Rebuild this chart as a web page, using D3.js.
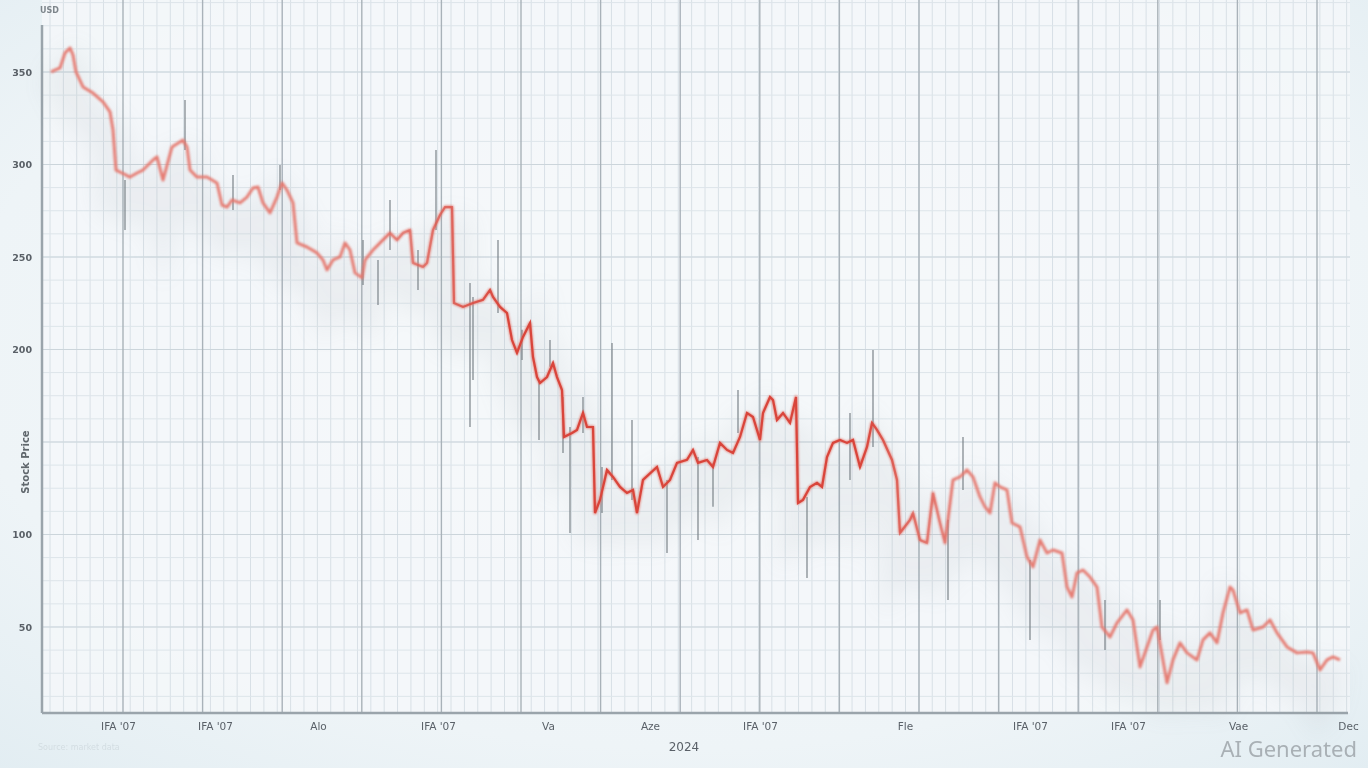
<!DOCTYPE html>
<html>
<head>
<meta charset="utf-8">
<script src="https://cdn.jsdelivr.net/npm/d3@7"></script>
<style>
  html, body { margin: 0; padding: 0; background: #eaf2f6; }
  svg { display: block; }
</style>
</head>
<body>
<svg id="chart" width="1368" height="768"></svg>
<script>
// ---- data ----
const days = [0.5,5,7.5,10,11.5,13,16.5,21.5,26.5,30,31.5,33,36,40,43.5,46.5,51.5,53.5,56.5,61,66.5,68.5,70,73.5,78.5,81,83.5,86,88.5,91,95,98.5,101.5,104,106.5,110,113.5,116,118.5,121.5,123.5,128.5,133.5,136.5,138.5,141.5,145,147.5,150,152.5,156,157.5,161.5,165,170,173.5,176.5,180,181.5,186.5,188.5,191.5,195,197.5,201,202,206.5,211.5,216.5,220,221.5,225,228.5,231,233.5,236.5,240,241.5,243.5,245,248.5,251.5,253.5,256,257,261,263.5,266.5,268.5,271.5,272.5,275,278.5,281.5,285,288.5,291.5,293.5,296.5,303.5,306.5,310,313.5,318.5,321.5,324,328.5,331.5,335,338.5,341.5,345,348.5,351.5,355,356.5,360,361.5,363.5,366.5,370,373,374,376.5,380,383.5,386,388.5,391.5,395,398.5,401.5,405,408.5,411,413.5,416.5,421,423.5,425,430,431.5,435,438.5,441.5,445,447.5,451.5,455,458.5,461.5,465,467.5,470,472.5,475,478.5,481,485,488.5,491.5,495,498.5,501.5,506,508.5,511,513.5,516.5,520,523.5,526,530,533.5,538.5,541.5,545,548.5,551.5,553.5,558.5,561.5,565,568.5,573.5,576.5,580,583.5,586.5,590,591.5,595,598.5,601.5,606.5,610,613.5,618.5,623.5,628.5,631.5,635,638.5,641.5,645];
const closes = [350,352.2,360.3,363,359.2,350,341.9,338.6,333.8,328.4,318.7,297,295.4,293.2,295.4,297,302.4,304.1,291.6,309.5,313.2,309.5,297,293.2,293.2,291.6,290,278.1,277,280.8,279.2,282.4,287.3,287.8,279.2,273.8,282.4,290,286.2,279.2,257.6,255.4,252.2,248.4,243,248.4,250,257.6,253.8,241.4,238.7,248.4,253.8,257.6,263,259.2,263,264.6,246.8,244.6,246.8,264.6,272.7,277,277,225.1,223,225.1,226.8,232.2,228.4,223,219.7,205.1,198.1,206.8,214.3,195.9,185.1,181.9,185.1,192.7,185.1,178.1,152.7,154.9,156.5,165.7,158.1,158.1,111.6,118.7,134.9,131.1,125.7,122.4,124.1,111.6,129.5,136.5,125.7,129.5,138.7,140.3,145.7,138.7,140.3,136.5,149.5,145.7,144.1,152.7,165.7,163.5,151.1,165.7,174.3,172.7,161.9,165.7,160.3,174.3,117.0,118.7,125.7,127.9,125.7,141.9,149.5,151.1,149.5,151.1,136.5,147.3,160.3,156.5,151.1,140.3,129.5,100.8,107.9,111.6,97.0,95.4,122.4,106.2,95.4,129.5,131.1,134.9,131.1,120.3,114.9,111.6,127.9,125.7,124.1,106.2,104.1,87.9,82.5,97.0,90,91.6,90,71.6,66.2,79.2,80.8,77.0,71.6,50,44.6,52.2,59.2,53.8,28.4,39.2,48.4,50,19.8,32.2,41.4,36,32.2,43,46.8,41.4,57.6,71.6,70.0,57.6,59.2,48.4,50,53.8,46.8,39.2,36,36.5,36,26.8,32.2,33.8,32.2];

const wickDays  = [37.5,67.5,91.5,115,156.5,164,170,184,193,210,211.5,224,236,244.5,250,256.5,260,266.5,276,281,291,308.5,324,331.5,344,378.5,400,411.5,449,456.5,490,527.5,555];
const wickHighs = [291.6,334.9,294.3,299.7,259.2,248.4,280.8,253.8,307.8,235.9,228.4,259.2,210.6,183.5,205.1,174.3,158.1,174.3,136.5,203.5,161.9,129.5,141.9,138.7,178.1,120.3,165.7,199.7,107.9,152.7,86.2,64.6,64.6];
const wickLows  = [264.6,307.8,275.4,286.2,234.9,224.1,253.8,232.2,264.6,158.1,183.5,219.7,194.3,151.1,190.6,144.1,100.8,154.9,111.6,129.5,118.7,90,97,115,154.9,76.5,129.5,147.3,64.6,124.1,43,37.6,43];

const yTickValues = [350, 300, 250, 200, 100, 50];
const yGridValues = [350, 300, 250, 200, 150, 100, 50];
const xTickDays   = [34, 82.5, 134, 194, 249, 300, 355, 427.5, 490, 539, 594, 649];
const xTickLabels = ["IFA '07", "IFA '07", "Alo", "IFA '07", "Va", "Aze", "IFA '07", "Fle", "IFA '07", "IFA '07", "Vae", "Dec"];
const xTitle = "2024";
const yTitle = "Stock Price";
const unitLabel = "USD";

// ---- layout ----
const W = 1368, H = 768;
const plot = { left: 42, right: 1350, top: 25, bottom: 713 };

const svg = d3.select("#chart");
const defs = svg.append("defs");

const bgGrad = defs.append("radialGradient").attr("id", "bg").attr("cx", "50%").attr("cy", "45%").attr("r", "75%");
bgGrad.append("stop").attr("offset", "0%").attr("stop-color", "#f6f9fa");
bgGrad.append("stop").attr("offset", "70%").attr("stop-color", "#eef4f7");
bgGrad.append("stop").attr("offset", "100%").attr("stop-color", "#e2edf2");

const f1 = defs.append("filter").attr("id", "soft").attr("x", "-5%").attr("y", "-5%").attr("width", "110%").attr("height", "110%");
f1.append("feGaussianBlur").attr("stdDeviation", 0.7);
const f2 = defs.append("filter").attr("id", "blurLine").attr("x", "-5%").attr("y", "-20%").attr("width", "110%").attr("height", "140%");
f2.append("feGaussianBlur").attr("stdDeviation", 1.3);
const f3 = defs.append("filter").attr("id", "shadow").attr("x", "-10%").attr("y", "-30%").attr("width", "120%").attr("height", "160%");
f3.append("feGaussianBlur").attr("stdDeviation", 12);
const fText = defs.append("filter").attr("id", "softText");
fText.append("feGaussianBlur").attr("stdDeviation", 0.55);

// focus mask (depth of field: middle crisp)
const mg = defs.append("linearGradient").attr("id", "focusGrad").attr("gradientUnits", "userSpaceOnUse")
  .attr("x1", 0).attr("x2", W).attr("y1", 0).attr("y2", 0);
mg.append("stop").attr("offset", "0.27").attr("stop-color", "#000");
mg.append("stop").attr("offset", "0.37").attr("stop-color", "#fff");
mg.append("stop").attr("offset", "0.63").attr("stop-color", "#fff");
mg.append("stop").attr("offset", "0.70").attr("stop-color", "#000");
defs.append("mask").attr("id", "focus").attr("maskUnits", "userSpaceOnUse")
  .attr("x", 0).attr("y", 0).attr("width", W).attr("height", H)
  .append("rect").attr("width", W).attr("height", H).attr("fill", "url(#focusGrad)");

svg.append("rect").attr("width", W).attr("height", H).attr("fill", "url(#bg)");
svg.append("rect").attr("x", plot.left).attr("y", 0)
  .attr("width", plot.right - plot.left).attr("height", plot.bottom)
  .attr("fill", "#f5f8fa").attr("opacity", 0.8);

// ---- scales ----
const x = d3.scaleLinear().domain([0, 655]).range([50, 1360]);
const y = d3.scaleLinear().domain([3.5, 375.4]).range([plot.bottom, plot.top]);

// ---- grid ----
const grid = svg.append("g").attr("filter", "url(#soft)");
const minorXStep = 655 / 98;
const minorX = d3.range(0, 98).map(i => i * minorXStep);
grid.selectAll(".vminor").data(minorX).join("line")
  .attr("x1", d => x(d)).attr("x2", d => x(d))
  .attr("y1", 0).attr("y2", plot.bottom)
  .attr("stroke", "#d8e0e6").attr("stroke-width", 1);
grid.selectAll(".hminor").data(d3.range(12.5, 400, 12.5)).join("line")
  .attr("x1", plot.left).attr("x2", plot.right)
  .attr("y1", d => y(d)).attr("y2", d => y(d))
  .attr("stroke", "#dde5ea").attr("stroke-width", 1);
grid.selectAll(".hmajor").data(yGridValues).join("line")
  .attr("x1", plot.left).attr("x2", plot.right)
  .attr("y1", d => y(d)).attr("y2", d => y(d))
  .attr("stroke", "#ccd5db").attr("stroke-width", 1.2);
const majorX = d3.range(0, 16).map(i => 36.5 + i * 39.8);
grid.selectAll(".vmajor").data(majorX).join("line")
  .attr("x1", d => x(d)).attr("x2", d => x(d))
  .attr("y1", 0).attr("y2", plot.bottom)
  .attr("stroke", "#a9b2b9").attr("stroke-width", 1.4);

// ---- axes ----
const axisG = svg.append("g").attr("filter", "url(#soft)");
axisG.append("line").attr("x1", plot.left).attr("x2", plot.left).attr("y1", plot.top).attr("y2", plot.bottom)
  .attr("stroke", "#9aa4ab").attr("stroke-width", 2.5);
axisG.append("line").attr("x1", plot.left).attr("x2", 1348).attr("y1", plot.bottom).attr("y2", plot.bottom)
  .attr("stroke", "#9aa4ab").attr("stroke-width", 2.5);

const yAxis = d3.axisLeft(y).tickValues(yTickValues).tickSize(0).tickPadding(10).tickFormat(d3.format("d"));
const yAxisG = svg.append("g").attr("transform", `translate(${plot.left},0)`).call(yAxis).attr("filter", "url(#softText)");
yAxisG.select(".domain").remove();
yAxisG.selectAll("text").attr("fill", "#5a6167").attr("font-size", 9.5).attr("font-family", "DejaVu Sans, sans-serif").attr("font-weight", "bold");

const xAxis = d3.axisBottom(x).tickValues(xTickDays).tickSize(0).tickPadding(10)
  .tickFormat((d, i) => xTickLabels[i]);
const xAxisG = svg.append("g").attr("transform", `translate(0,${plot.bottom})`).call(xAxis).attr("filter", "url(#softText)");
xAxisG.select(".domain").remove();
xAxisG.selectAll("text").attr("fill", "#5a6168").attr("font-size", 10.5).attr("font-family", "DejaVu Sans, sans-serif");

const labels = svg.append("g").attr("filter", "url(#softText)");
labels.append("text").attr("x", 684).attr("y", 751).attr("text-anchor", "middle")
  .attr("font-family", "DejaVu Sans, sans-serif").attr("font-size", 12).attr("fill", "#5a6168").text(xTitle);
labels.append("text").attr("transform", "translate(29,462) rotate(-90)").attr("text-anchor", "middle")
  .attr("font-family", "DejaVu Sans, sans-serif").attr("font-size", 10).attr("font-weight", "bold").attr("fill", "#60676d").text(yTitle);
labels.append("text").attr("x", 40).attr("y", 13)
  .attr("font-family", "DejaVu Sans, sans-serif").attr("font-size", 8).attr("font-weight", "bold").attr("fill", "#7d858b").text(unitLabel);
labels.append("text").attr("x", 38).attr("y", 750)
  .attr("font-family", "DejaVu Sans, sans-serif").attr("font-size", 8).attr("fill", "#d3dde2").text("Source: market data");

// ---- series ----
const series = days.map((d, i) => ({ d, v: closes[i] }));
const line = d3.line().x(p => x(p.d)).y(p => y(p.v));

// soft shadow beneath the series
svg.append("path").datum(series).attr("d", line)
  .attr("transform", "translate(0,28)")
  .attr("fill", "none").attr("stroke", "#8d969c").attr("stroke-width", 40)
  .attr("opacity", 0.09).attr("filter", "url(#shadow)");

// wicks
const wicks = wickDays.map((d, i) => ({ d, hi: wickHighs[i], lo: wickLows[i] }));
svg.append("g").attr("filter", "url(#soft)").selectAll("line").data(wicks).join("line")
  .attr("x1", w => x(w.d)).attr("x2", w => x(w.d))
  .attr("y1", w => y(w.hi)).attr("y2", w => y(w.lo))
  .attr("stroke", "#7b848a").attr("stroke-width", 1.6).attr("opacity", 0.75);

// blurred full line
svg.append("path").datum(series).attr("d", line)
  .attr("fill", "none").attr("stroke", "#e5776d").attr("stroke-width", 3)
  .attr("stroke-linejoin", "round").attr("filter", "url(#blurLine)").attr("opacity", 0.95);
// crisp middle part
svg.append("path").datum(series).attr("d", line)
  .attr("fill", "none").attr("stroke", "#d9453b").attr("stroke-width", 2.2)
  .attr("stroke-linejoin", "miter").attr("mask", "url(#focus)");

// watermark
svg.append("text").attr("x", 1357).attr("y", 757).attr("text-anchor", "end")
  .attr("font-family", "Noto Sans, DejaVu Sans, sans-serif").attr("font-size", 22)
  .attr("fill", "#a9b0b5").text("AI Generated");
</script>
</body>
</html>
